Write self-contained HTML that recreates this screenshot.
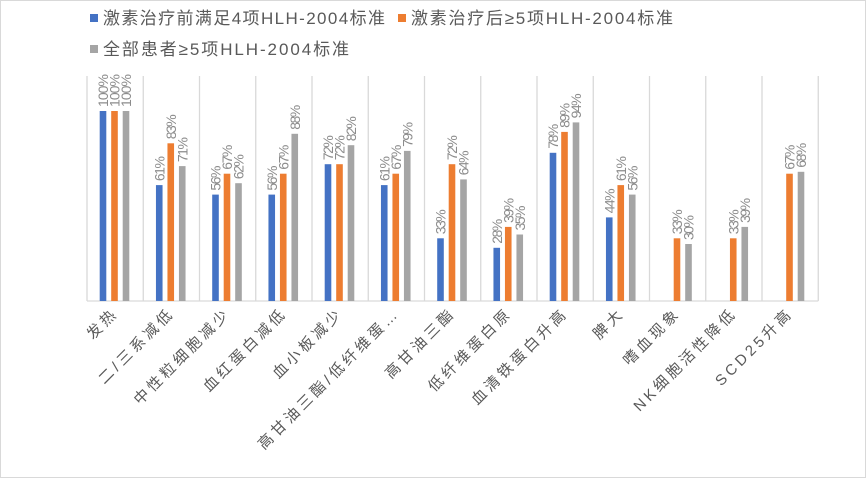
<!DOCTYPE html>
<html><head><meta charset="utf-8"><style>
html,body{margin:0;padding:0;background:#fff;}
svg{display:block;font-family:"Liberation Sans","Noto Sans CJK SC",sans-serif;}
</style></head><body>
<svg width="867" height="479" viewBox="0 0 867 479" xmlns="http://www.w3.org/2000/svg">
<rect x="0.5" y="0.5" width="865" height="477" fill="#fff" stroke="#d9d9d9"/>
<g font-size="17" fill="#595959">
<rect x="90" y="14" width="8" height="8" fill="#4472c4"/>
<text x="103" y="24" textLength="282" lengthAdjust="spacing">激素治疗前满足4项HLH-2004标准</text>
<rect x="398" y="14" width="8" height="8" fill="#ed7d31"/>
<text x="411" y="24" textLength="262" lengthAdjust="spacing">激素治疗后≥5项HLH-2004标准</text>
<rect x="90" y="45" width="8" height="8" fill="#a5a5a5"/>
<text x="103" y="55" textLength="246" lengthAdjust="spacing">全部患者≥5项HLH-2004标准</text>
</g>
<g stroke="#d9d9d9" stroke-width="1.3">
<line x1="87" y1="76" x2="87" y2="301"/><line x1="143.25" y1="76" x2="143.25" y2="301"/><line x1="199.5" y1="76" x2="199.5" y2="301"/><line x1="255.75" y1="76" x2="255.75" y2="301"/><line x1="312" y1="76" x2="312" y2="301"/><line x1="368.25" y1="76" x2="368.25" y2="301"/><line x1="424.5" y1="76" x2="424.5" y2="301"/><line x1="480.75" y1="76" x2="480.75" y2="301"/><line x1="537" y1="76" x2="537" y2="301"/><line x1="593.25" y1="76" x2="593.25" y2="301"/><line x1="649.5" y1="76" x2="649.5" y2="301"/><line x1="705.75" y1="76" x2="705.75" y2="301"/><line x1="762" y1="76" x2="762" y2="301"/><line x1="818.25" y1="76" x2="818.25" y2="301"/>
<line x1="87" y1="301" x2="818.25" y2="301"/>
</g>
<g fill="#4472c4">
<rect x="99.7" y="111" width="6.6" height="190"/>
<rect x="155.95" y="185.1" width="6.6" height="115.9"/>
<rect x="212.2" y="194.6" width="6.6" height="106.4"/>
<rect x="268.45" y="194.6" width="6.6" height="106.4"/>
<rect x="324.7" y="164.2" width="6.6" height="136.8"/>
<rect x="380.95" y="185.1" width="6.6" height="115.9"/>
<rect x="437.2" y="238.3" width="6.6" height="62.7"/>
<rect x="493.45" y="247.8" width="6.6" height="53.2"/>
<rect x="549.7" y="152.8" width="6.6" height="148.2"/>
<rect x="605.95" y="217.4" width="6.6" height="83.6"/>
</g>
<g fill="#ed7d31">
<rect x="111.2" y="111" width="6.6" height="190"/>
<rect x="167.45" y="143.3" width="6.6" height="157.7"/>
<rect x="223.7" y="173.7" width="6.6" height="127.3"/>
<rect x="279.95" y="173.7" width="6.6" height="127.3"/>
<rect x="336.2" y="164.2" width="6.6" height="136.8"/>
<rect x="392.45" y="173.7" width="6.6" height="127.3"/>
<rect x="448.7" y="164.2" width="6.6" height="136.8"/>
<rect x="504.95" y="226.9" width="6.6" height="74.1"/>
<rect x="561.2" y="131.9" width="6.6" height="169.1"/>
<rect x="617.45" y="185.1" width="6.6" height="115.9"/>
<rect x="673.7" y="238.3" width="6.6" height="62.7"/>
<rect x="729.95" y="238.3" width="6.6" height="62.7"/>
<rect x="786.2" y="173.7" width="6.6" height="127.3"/>
</g>
<g fill="#a5a5a5">
<rect x="122.7" y="111" width="6.6" height="190"/>
<rect x="178.95" y="166.1" width="6.6" height="134.9"/>
<rect x="235.2" y="183.2" width="6.6" height="117.8"/>
<rect x="291.45" y="133.8" width="6.6" height="167.2"/>
<rect x="347.7" y="145.2" width="6.6" height="155.8"/>
<rect x="403.95" y="150.9" width="6.6" height="150.1"/>
<rect x="460.2" y="179.4" width="6.6" height="121.6"/>
<rect x="516.45" y="234.5" width="6.6" height="66.5"/>
<rect x="572.7" y="122.4" width="6.6" height="178.6"/>
<rect x="628.95" y="194.6" width="6.6" height="106.4"/>
<rect x="685.2" y="244" width="6.6" height="57"/>
<rect x="741.45" y="226.9" width="6.6" height="74.1"/>
<rect x="797.7" y="171.8" width="6.6" height="129.2"/>
</g>
<g font-size="14" fill="#8c8c8c">
<text transform="translate(108,107) rotate(-90)" textLength="33">100%</text>
<text transform="translate(119.5,107) rotate(-90)" textLength="33">100%</text>
<text transform="translate(131,107) rotate(-90)" textLength="33">100%</text>
<text transform="translate(164.25,181.1) rotate(-90)" textLength="25">61%</text>
<text transform="translate(175.75,139.3) rotate(-90)" textLength="25">83%</text>
<text transform="translate(187.25,162.1) rotate(-90)" textLength="25">71%</text>
<text transform="translate(220.5,190.6) rotate(-90)" textLength="25">56%</text>
<text transform="translate(232,169.7) rotate(-90)" textLength="25">67%</text>
<text transform="translate(243.5,179.2) rotate(-90)" textLength="25">62%</text>
<text transform="translate(276.75,190.6) rotate(-90)" textLength="25">56%</text>
<text transform="translate(288.25,169.7) rotate(-90)" textLength="25">67%</text>
<text transform="translate(299.75,129.8) rotate(-90)" textLength="25">88%</text>
<text transform="translate(333,160.2) rotate(-90)" textLength="25">72%</text>
<text transform="translate(344.5,160.2) rotate(-90)" textLength="25">72%</text>
<text transform="translate(356,141.2) rotate(-90)" textLength="25">82%</text>
<text transform="translate(389.25,181.1) rotate(-90)" textLength="25">61%</text>
<text transform="translate(400.75,169.7) rotate(-90)" textLength="25">67%</text>
<text transform="translate(412.25,146.9) rotate(-90)" textLength="25">79%</text>
<text transform="translate(445.5,234.3) rotate(-90)" textLength="25">33%</text>
<text transform="translate(457,160.2) rotate(-90)" textLength="25">72%</text>
<text transform="translate(468.5,175.4) rotate(-90)" textLength="25">64%</text>
<text transform="translate(501.75,243.8) rotate(-90)" textLength="25">28%</text>
<text transform="translate(513.25,222.9) rotate(-90)" textLength="25">39%</text>
<text transform="translate(524.75,230.5) rotate(-90)" textLength="25">35%</text>
<text transform="translate(558,148.8) rotate(-90)" textLength="25">78%</text>
<text transform="translate(569.5,127.9) rotate(-90)" textLength="25">89%</text>
<text transform="translate(581,118.4) rotate(-90)" textLength="25">94%</text>
<text transform="translate(614.25,213.4) rotate(-90)" textLength="25">44%</text>
<text transform="translate(625.75,181.1) rotate(-90)" textLength="25">61%</text>
<text transform="translate(637.25,190.6) rotate(-90)" textLength="25">56%</text>
<text transform="translate(682,234.3) rotate(-90)" textLength="25">33%</text>
<text transform="translate(693.5,240) rotate(-90)" textLength="25">30%</text>
<text transform="translate(738.25,234.3) rotate(-90)" textLength="25">33%</text>
<text transform="translate(749.75,222.9) rotate(-90)" textLength="25">39%</text>
<text transform="translate(794.5,169.7) rotate(-90)" textLength="25">67%</text>
<text transform="translate(806,167.8) rotate(-90)" textLength="25">68%</text>
</g>
<g font-size="15" fill="#595959" text-anchor="end" letter-spacing="3.5">
<text transform="translate(119,314) rotate(-45)">发热</text>
<text transform="translate(175.3,314) rotate(-45)">二/三系减低</text>
<text transform="translate(231.5,314) rotate(-45)">中性粒细胞减少</text>
<text transform="translate(287.8,314) rotate(-45)">血红蛋白减低</text>
<text transform="translate(344,314) rotate(-45)">血小板减少</text>
<text transform="translate(400.3,314) rotate(-45)">高甘油三酯/低纤维蛋…</text>
<text transform="translate(456.5,314) rotate(-45)">高甘油三酯</text>
<text transform="translate(512.8,314) rotate(-45)">低纤维蛋白原</text>
<text transform="translate(569,314) rotate(-45)">血清铁蛋白升高</text>
<text transform="translate(625.3,314) rotate(-45)">脾大</text>
<text transform="translate(681.5,314) rotate(-45)">嗜血现象</text>
<text transform="translate(737.8,314) rotate(-45)">NK细胞活性降低</text>
<text transform="translate(794,314) rotate(-45)">SCD25升高</text>
</g>
</svg>
</body></html>
